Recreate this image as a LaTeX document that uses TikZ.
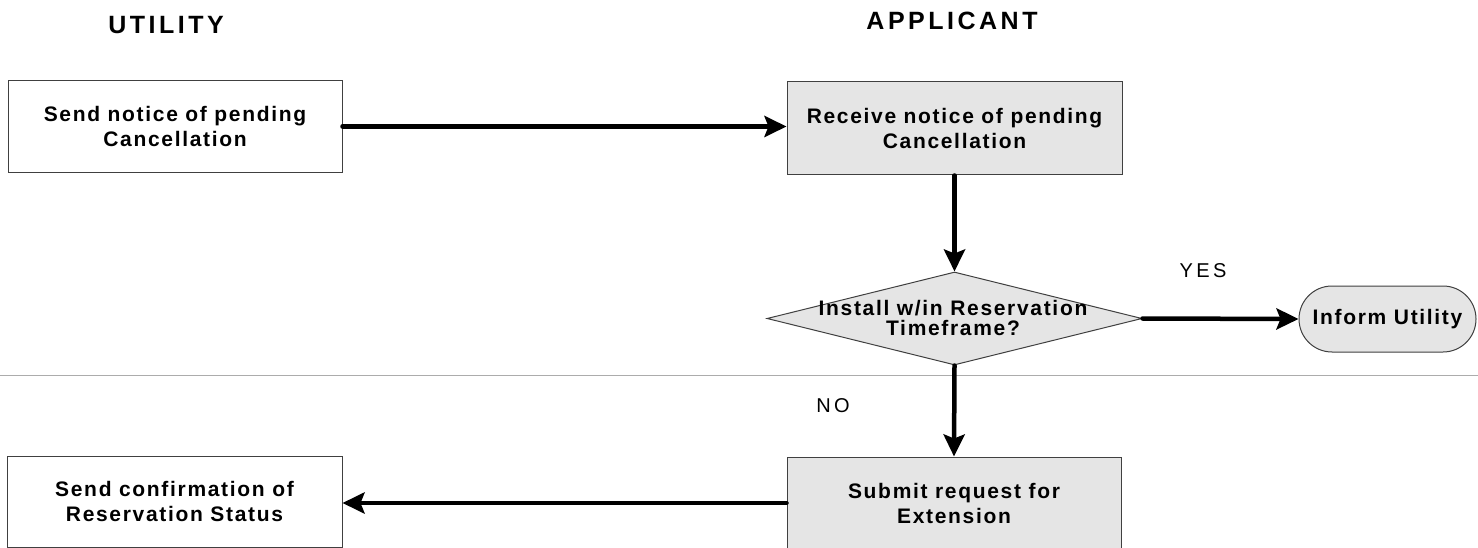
\documentclass[tikz,border=0pt]{standalone}
\usepackage{fontspec}
\setmainfont{Liberation Sans}
\newfontfamily\flowfont[LetterSpace=8]{Liberation Sans}
\newfontfamily\headfont[LetterSpace=14]{Liberation Sans}
\newfontfamily\tagfont[LetterSpace=17]{Liberation Sans}
\usetikzlibrary{arrows.meta,shapes.geometric,shapes.misc}

\definecolor{shade}{gray}{0.90}
\definecolor{edge}{gray}{0.25}

\tikzset{
  stepbox/.style={draw=edge, line width=1pt, inner sep=0pt, align=center,
    font=\flowfont\bfseries\fontsize{21}{25}\selectfont},
  plainbox/.style={stepbox, fill=white},
  shadedbox/.style={stepbox, fill=shade},
  decision/.style={diamond, draw=edge, line width=1pt, fill=shade, inner sep=0pt},
  terminal/.style={rounded rectangle, draw=edge, line width=1pt, fill=shade,
    inner sep=0pt, font=\flowfont\bfseries\fontsize{21}{25}\selectfont},
  flow/.style={line width=4.5pt, line cap=round,
    -{Stealth[length=22pt,width=21pt,inset=4pt]}},
  lanehead/.style={font=\headfont\bfseries\fontsize{25}{30}\selectfont},
  answer/.style={font=\tagfont\fontsize{20}{24}\selectfont},
}

\begin{document}
\begin{tikzpicture}[x=1pt,y=-1pt]
  \useasboundingbox[fill=white] (0,0) rectangle (1478,548);

  % swim-lane headings
  \node[lanehead] (hutil) at (166,25) {UTILITY};
  \node[lanehead] (happ) at (952,21) {APPLICANT};

  % separator between the two phases
  \coordinate (sepL) at (0,375);
  \coordinate (sepR) at (1478,375);
  \draw[gray!65, line width=1pt] (sepL) -- (sepR);

  % process steps
  \node[plainbox, minimum width=334pt, minimum height=92pt] (b1) at (175,126.5)
    {Send notice of pending\\Cancellation};
  \node[shadedbox, minimum width=335pt, minimum height=93pt] (b2) at (954.5,128.5)
    {Receive notice of pending\\Cancellation};
  \node[decision, minimum width=375pt, minimum height=93pt] (d) at (954.5,318.5) {};
  \node[font=\flowfont\bfseries\fontsize{21}{20}\selectfont, align=center, inner sep=0pt]
    (dtext) at (953,318) {Install w/in Reservation\\Timeframe?};
  \node[terminal, minimum width=177pt, minimum height=66pt] (s) at (1387.5,319)
    {Inform Utility};
  \node[shadedbox, minimum width=334pt, minimum height=92pt] (b3) at (954,503)
    {Submit request for\\Extension};
  \node[plainbox, minimum width=335pt, minimum height=91pt] (b4) at (174.5,501.5)
    {Send confirmation of\\Reservation Status};

  % branch labels
  \node[answer] (yes) at (1203,271) {YES};
  \node[answer] (no) at (833,405.5) {NO};

  % connectors
  \draw[flow] (b1.east) -- (b1.east -| b2.west);
  \draw[flow] (b2.south) -- (d.north);
  \draw[flow] (d.east) -- (s.west);
  \draw[flow] (d.south) -- (b3.north);
  \draw[flow] (b3.west) -- (b3.west -| b4.east);
\end{tikzpicture}
\end{document}
